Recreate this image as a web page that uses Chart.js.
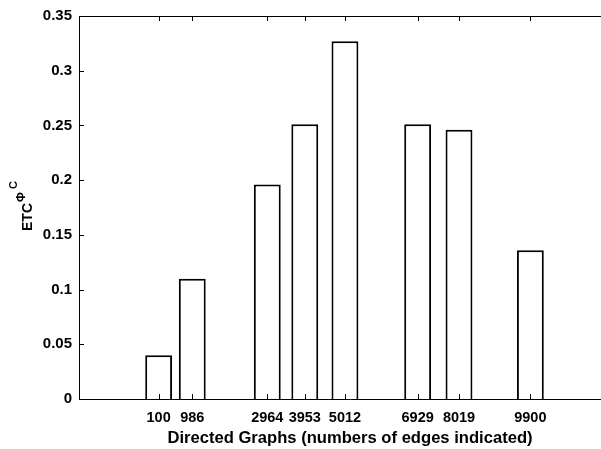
<!DOCTYPE html>
<html lang="en">
<head>
    <meta charset="UTF-8">
    <title>ETC per directed graph</title>
    <script src="https://cdn.jsdelivr.net/npm/chart.js"></script>
    <style>
        body {
            margin: 0;
            overflow: hidden;
            background: #fff;
        }
        #wrap {
            position: absolute;
            left: 0;
            top: 0;
        }
    </style>
</head>
<body>
    <div id="wrap"><canvas id="etcChart" width="631" height="449"></canvas></div>

    <script>
        // edge counts of each directed graph (bar positions on the x axis)
        const edgeCounts = [100, 986, 2964, 3953, 5012, 6929, 8019, 9900];
        // ETC^(Phi^C) value for each graph
        const etcValues = [0.040, 0.110, 0.196, 0.251, 0.327, 0.251, 0.246, 0.136];
        // y tick labels
        const yTicks = [0, 0.05, 0.1, 0.15, 0.2, 0.25, 0.3, 0.35];

        const labelFont = 'Liberation Sans, Arial, Helvetica, sans-serif';

        // matlab style: ticks pointing inward, box line on top, and the y label with superscripts
        const axesExtras = {
            id: 'axesExtras',
            afterDatasetsDraw(chart) {
                const ctx = chart.ctx;
                const area = chart.chartArea;
                const xs = chart.scales.x;
                const ys = chart.scales.y;
                ctx.save();
                ctx.strokeStyle = '#000';
                ctx.lineWidth = 1;
                ctx.beginPath();
                ctx.moveTo(area.left, Math.round(area.top) + 0.5);
                ctx.lineTo(area.right, Math.round(area.top) + 0.5);
                edgeCounts.forEach(v => {
                    const px = Math.round(xs.getPixelForValue(v)) + 0.5;
                    ctx.moveTo(px, area.bottom);
                    ctx.lineTo(px, area.bottom - 5);
                    ctx.moveTo(px, area.top);
                    ctx.lineTo(px, area.top + 5);
                });
                yTicks.forEach(v => {
                    const py = Math.round(ys.getPixelForValue(v)) + 0.5;
                    ctx.moveTo(area.left, py);
                    ctx.lineTo(area.left + 5, py);
                });
                ctx.stroke();
                ctx.restore();
            },
            afterDraw(chart) {
                const ctx = chart.ctx;
                ctx.save();
                ctx.translate(32, 231);
                ctx.rotate(-Math.PI / 2);
                ctx.fillStyle = '#000';
                ctx.textAlign = 'left';
                ctx.textBaseline = 'alphabetic';
                ctx.font = 'bold 14px ' + labelFont;
                ctx.fillText('ETC', 0, 0);
                ctx.font = 'bold 12px ' + labelFont;
                ctx.fillText('\u03A6', 29, -7);
                ctx.font = 'bold 11px ' + labelFont;
                ctx.fillText('C', 42, -15);
                ctx.restore();
            }
        };

        const ctx = document.getElementById('etcChart').getContext('2d');
        const etcChart = new Chart(ctx, {
            type: 'bar',
            data: {
                datasets: [{
                    label: 'ETC',
                    data: edgeCounts.map((e, i) => ({ x: e, y: etcValues[i] })),
                    backgroundColor: '#fff',
                    borderColor: '#000',
                    borderWidth: 2,
                    borderSkipped: 'start',
                    barPercentage: 0.8,
                    categoryPercentage: 1
                }]
            },
            options: {
                responsive: false,
                animation: false,
                devicePixelRatio: 1,
                layout: {
                    padding: { top: 14, right: 10, left: 0, bottom: 0 }
                },
                scales: {
                    x: {
                        type: 'linear',
                        min: -2000,
                        max: 12290,
                        offset: false,
                        grid: { display: false, drawTicks: false, offset: false },
                        border: { display: true, color: '#000', width: 1 },
                        afterBuildTicks: axis => {
                            axis.ticks = edgeCounts.map(v => ({ value: v }));
                        },
                        afterFit: axis => { axis.height = 50; },
                        ticks: {
                            autoSkip: false,
                            maxRotation: 0,
                            padding: 10,
                            color: '#000',
                            font: { family: labelFont, size: 14.5, weight: 'bold' },
                            callback: v => String(v)
                        },
                        title: {
                            display: true,
                            text: 'Directed Graphs (numbers of edges indicated)',
                            color: '#000',
                            padding: { top: 0, bottom: 1 },
                            font: { family: labelFont, size: 16.6, weight: 'bold' }
                        }
                    },
                    y: {
                        min: 0,
                        max: 0.35,
                        grid: { display: false, drawTicks: false },
                        border: { display: true, color: '#000', width: 1 },
                        afterBuildTicks: axis => {
                            axis.ticks = yTicks.map(v => ({ value: v }));
                        },
                        afterFit: axis => { axis.width = 79; },
                        ticks: {
                            padding: 7,
                            color: '#000',
                            font: { family: labelFont, size: 15, weight: 'bold' },
                            callback: v => String(+v.toFixed(2))
                        }
                    }
                },
                plugins: {
                    legend: { display: false },
                    tooltip: { enabled: false }
                }
            },
            plugins: [axesExtras]
        });
    </script>
</body>
</html>
